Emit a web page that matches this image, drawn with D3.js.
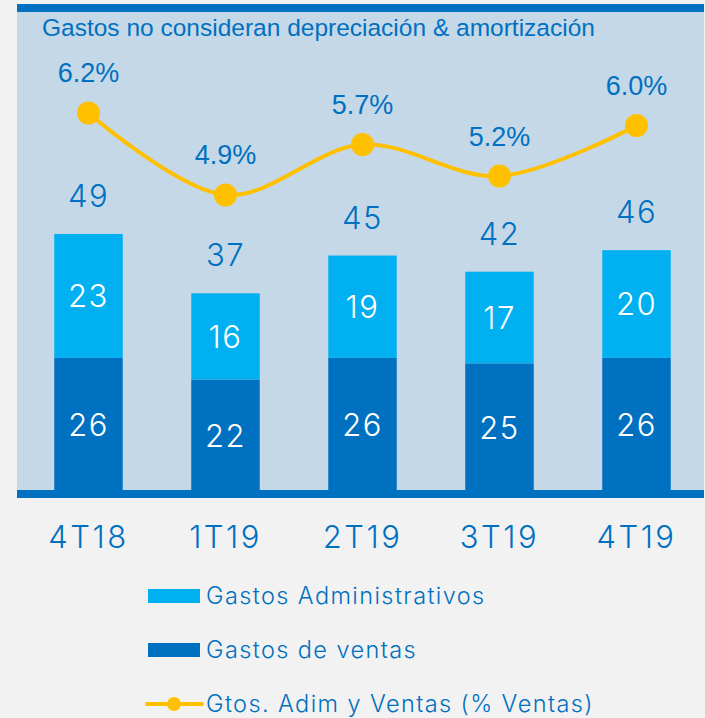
<!DOCTYPE html>
<html>
<head>
<meta charset="utf-8">
<script src="https://cdn.jsdelivr.net/npm/d3@7"></script>
<style>
  body { margin: 0; background: #f2f2f2; }
  svg { display: block; }
</style>
</head>
<body>
<script>
var periods = ["4T18", "1T19", "2T19", "3T19", "4T19"];
var gastosVentas = [26, 22, 26, 25, 26];
var gastosAdmin = [23, 16, 19, 17, 20];
var totals = [49, 37, 45, 42, 46];
var pctVentas = [6.2, 4.9, 5.7, 5.2, 6.0];

var width = 705, height = 718;
var panel = { left: 17, right: 704, top: 4, bottom: 498 };
var blue = "#0070c0", light = "#00b0f0", gold = "#ffc000";
var wide = "300 31px Inter, 'DejaVu Sans', sans-serif";
var narrow = "'Liberation Sans', Arial, sans-serif";

var svg = d3.select("body").append("svg")
    .attr("width", width)
    .attr("height", height);

// panel
svg.append("rect")
    .attr("x", panel.left).attr("y", panel.top)
    .attr("width", panel.right - panel.left)
    .attr("height", panel.bottom - panel.top)
    .attr("fill", "#c5d8e8");

svg.append("text")
    .attr("x", 42).attr("y", 36)
    .attr("fill", blue)
    .style("font", "24.5px " + narrow)
    .text("Gastos no consideran depreciación & amortización");

var x = d3.scaleBand()
    .domain(periods)
    .range([20, 705])
    .paddingInner(0.5)
    .paddingOuter(0.25);

var y = d3.scaleLinear().domain([0, 49]).range([498, 234]);
var yPct = d3.scaleLinear().domain([4.9, 6.2]).range([195, 113]);

var rows = periods.map(function(p, i) {
    return { p: p, v: gastosVentas[i], a: gastosAdmin[i], t: totals[i], pct: pctVentas[i] };
});

var g = svg.selectAll("g.bar")
    .data(rows)
    .enter()
    .append("g")
    .attr("class", "bar");

g.append("rect")
    .attr("x", function(d) { return x(d.p); })
    .attr("width", x.bandwidth())
    .attr("y", function(d) { return y(d.v); })
    .attr("height", function(d) { return y(0) - y(d.v); })
    .attr("fill", blue);

g.append("rect")
    .attr("x", function(d) { return x(d.p); })
    .attr("width", x.bandwidth())
    .attr("y", function(d) { return y(d.v + d.a); })
    .attr("height", function(d) { return y(d.v) - y(d.v + d.a); })
    .attr("fill", light);

function cx(d) { return x(d.p) + x.bandwidth() / 2; }

function bigText(sel, spacing) {
    sel.attr("text-anchor", "middle")
        .attr("dy", "0.36em")
        .style("font", wide)
        .style("letter-spacing", (spacing || 1.5) + "px");
}

g.append("text")
    .attr("x", cx)
    .attr("y", function(d) { return (y(0) - 6 + y(d.v)) / 2; })
    .attr("fill", "white")
    .call(bigText)
    .text(function(d) { return d.v; });

g.append("text")
    .attr("x", cx)
    .attr("y", function(d) { return (y(d.v) + y(d.v + d.a)) / 2; })
    .attr("fill", "white")
    .call(bigText)
    .text(function(d) { return d.a; });

g.append("text")
    .attr("x", cx)
    .attr("y", function(d) { return y(d.v + d.a) - 38; })
    .attr("fill", blue)
    .call(bigText)
    .text(function(d) { return d.t; });

// bottom band
svg.append("rect")
    .attr("x", panel.left).attr("y", 490)
    .attr("width", panel.right - panel.left).attr("height", 8)
    .attr("fill", blue);
// top band
svg.append("rect")
    .attr("x", panel.left).attr("y", panel.top)
    .attr("width", panel.right - panel.left).attr("height", 8)
    .attr("fill", blue);

// line
var line = d3.line()
    .x(cx)
    .y(function(d) { return yPct(d.pct); })
    .curve(d3.curveCatmullRom);

svg.append("path")
    .datum(rows)
    .attr("d", line)
    .attr("fill", "none")
    .attr("stroke", gold)
    .attr("stroke-width", 4);

svg.selectAll("circle.pt")
    .data(rows)
    .enter()
    .append("circle")
    .attr("class", "pt")
    .attr("cx", cx)
    .attr("cy", function(d) { return yPct(d.pct); })
    .attr("r", 11.5)
    .attr("fill", gold);

svg.selectAll("text.pct")
    .data(rows)
    .enter()
    .append("text")
    .attr("class", "pct")
    .attr("x", cx)
    .attr("y", function(d) { return yPct(d.pct) - 40; })
    .attr("dy", "0.35em")
    .attr("text-anchor", "middle")
    .attr("fill", blue)
    .style("font", "27px " + narrow)
    .text(function(d) { return d.pct.toFixed(1) + "%"; });

// x axis labels
var xAxis = d3.axisBottom(x).tickSize(0).tickPadding(0);
var ax = svg.append("g")
    .attr("transform", "translate(0,537)")
    .call(xAxis);
ax.select(".domain").remove();
ax.selectAll("text")
    .attr("fill", blue)
    .call(bigText, 2.5);

// legend
var legend = [
    { label: "Gastos Administrativos", color: light, type: "rect" },
    { label: "Gastos de ventas", color: blue, type: "rect" },
    { label: "Gtos. Adim y Ventas (% Ventas)", color: gold, type: "line" }
];
var legendY = d3.scalePoint().domain(d3.range(legend.length)).range([596, 704]);

var lg = svg.selectAll("g.leg")
    .data(legend)
    .enter()
    .append("g")
    .attr("class", "leg")
    .attr("transform", function(d, i) { return "translate(0," + legendY(i) + ")"; });

lg.filter(function(d) { return d.type === "rect"; })
    .append("rect")
    .attr("x", 148).attr("y", -7)
    .attr("width", 52).attr("height", 14)
    .attr("fill", function(d) { return d.color; });

var ll = lg.filter(function(d) { return d.type === "line"; });
ll.append("line")
    .attr("x1", 147).attr("x2", 202)
    .attr("stroke", gold).attr("stroke-width", 4)
    .attr("stroke-linecap", "round");
ll.append("circle")
    .attr("cx", 174).attr("r", 7)
    .attr("fill", gold);

lg.append("text")
    .attr("x", 206)
    .attr("dy", "0.36em")
    .attr("fill", blue)
    .style("font", "300 23.5px Inter, 'DejaVu Sans', sans-serif")
    .style("letter-spacing", "1.4px")
    .text(function(d) { return d.label; });
</script>
</body>
</html>
